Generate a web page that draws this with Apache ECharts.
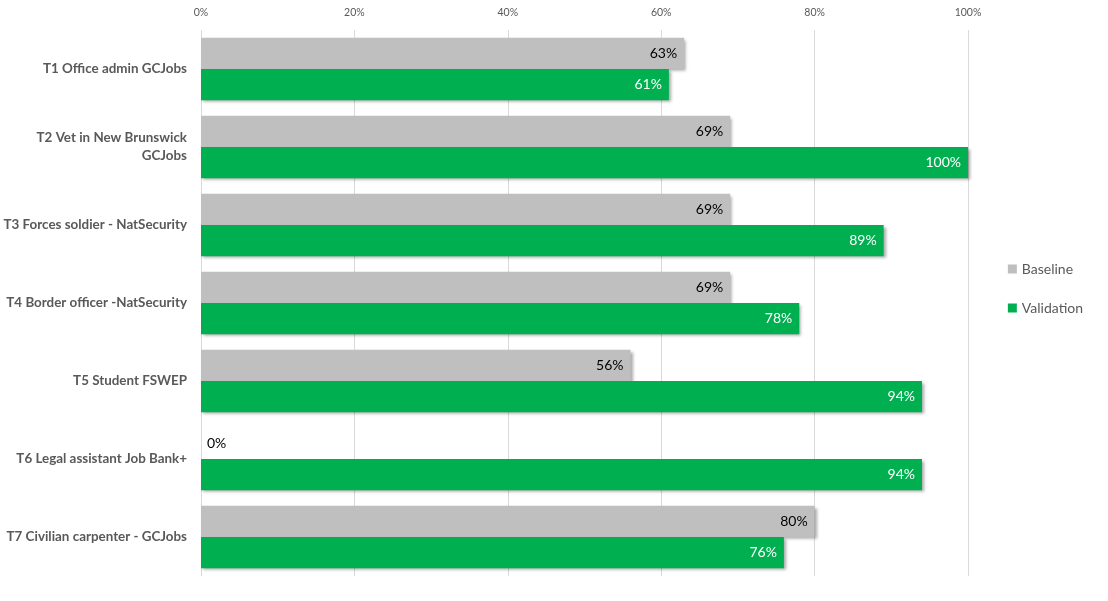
<!DOCTYPE html>
<html>
<head>
<meta charset="utf-8">
<script src="https://cdn.jsdelivr.net/npm/echarts@6/dist/echarts.min.js"></script>
<style>html,body{margin:0;padding:0;background:#fff;}#chart{width:1108px;height:601px;}</style>
</head>
<body>
<div id="chart"></div>
<script>
const categories = [
  'T1 Office admin GCJobs',
  'T2 Vet in New Brunswick\nGCJobs',
  'T3 Forces soldier - NatSecurity',
  'T4 Border officer -NatSecurity',
  'T5 Student FSWEP',
  'T6 Legal assistant Job Bank+',
  'T7 Civilian carpenter - GCJobs'
];
const baseline = [63, 69, 69, 69, 56, 0, 80];
const validation = [61, 100, 89, 78, 94, 94, 76];
const xTicks = [0, 20, 40, 60, 80, 100];

const FONT = 'Lato, "Open Sans", sans-serif';
const shadow = { shadowColor: 'rgba(0,0,0,0.35)', shadowBlur: 3, shadowOffsetX: 2, shadowOffsetY: 2 };

function mk(values) {
  return values.map(v => {
    const item = { value: v };
    if (v === 0) {
      item.label = { position: 'right', distance: 6, color: '#000' };
    }
    return item;
  });
}

const chart = echarts.init(document.getElementById('chart'));
chart.setOption({
  animation: false,
  textStyle: { fontFamily: FONT },
  grid: { left: 201, right: 140, top: 30, bottom: 25, containLabel: false },
  legend: {
    orient: 'vertical',
    right: 20,
    top: 257,
    itemWidth: 9,
    itemHeight: 9,
    itemGap: 25,
    icon: 'rect',
    textStyle: { fontFamily: FONT, fontSize: 14, color: '#595959' },
    data: ['Baseline', 'Validation']
  },
  xAxis: {
    type: 'value',
    position: 'top',
    min: xTicks[0],
    max: xTicks[xTicks.length - 1],
    interval: 20,
    axisLine: { show: false },
    axisTick: { show: false },
    splitLine: { show: true, lineStyle: { color: '#D9D9D9', width: 1 } },
    axisLabel: { formatter: '{value}%', color: '#595959', fontSize: 10.5, margin: 12, fontFamily: FONT }
  },
  yAxis: {
    type: 'category',
    inverse: true,
    data: categories,
    axisLine: { show: false },
    axisTick: { show: false },
    axisLabel: { color: '#595959', fontSize: 13.4, fontWeight: 'bold', margin: 14, lineHeight: 18, fontFamily: FONT, align: 'right' }
  },
  series: [
    {
      name: 'Baseline',
      type: 'bar',
      data: mk(baseline),
      barGap: '0%',
      barCategoryGap: '20%',
      itemStyle: Object.assign({ color: '#BFBFBF' }, shadow),
      label: { show: true, position: 'insideRight', distance: 7, formatter: '{c}%', color: '#000', fontSize: 14, fontFamily: FONT }
    },
    {
      name: 'Validation',
      type: 'bar',
      data: mk(validation),
      barGap: '0%',
      barCategoryGap: '20%',
      itemStyle: Object.assign({ color: '#00B050' }, shadow),
      label: { show: true, position: 'insideRight', distance: 7, formatter: '{c}%', color: '#fff', fontSize: 14, fontFamily: FONT }
    }
  ]
});
</script>
</body>
</html>
